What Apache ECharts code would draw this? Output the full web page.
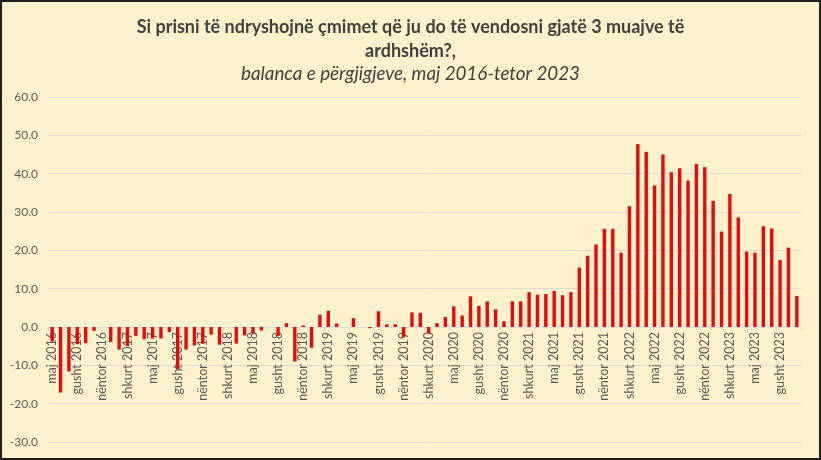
<!DOCTYPE html>
<html>
<head>
<meta charset="utf-8">
<script src="https://cdn.jsdelivr.net/npm/echarts@6/dist/echarts.min.js"></script>
<style>
html,body{margin:0;padding:0;background:#fff;}
#c{width:821px;height:460px;box-sizing:border-box;border:2px solid #1e1e1e;background:#fff2cc;}
</style>
</head>
<body>
<div id="c"></div>
<script>
const monthNames = ["janar","shkurt","mars","prill","maj","qershor","korrik","gusht","shtator","tetor","nëntor","dhjetor"];
const startYear = 2016, startMonth = 4, monthCount = 90;
const categories = [];
for (let k = 0; k < monthCount; k++) {
  const m = (startMonth + k) % 12;
  const y = startYear + Math.floor((startMonth + k) / 12);
  categories.push(monthNames[m] + " " + y);
}
const balance = [
  -3.8, -17.1, -11.6, -4.5, -4.2, -1.0, 0, -3.9, -5.9, -5.0,
  -2.3, -3.2, -3.0, -3.0, -1.3, -11.0, -5.9, -4.8, -4.4, -2.0,
  -4.6, 0, -4.3, -2.2, -1.7, -0.9, 0, -2.4, 1.0, -9.0,
  0.4, -5.4, 3.2, 4.2, 0.9, 0, 2.3, 0, -0.3, 4.1,
  0.7, 0.7, -2.7, 3.8, 3.7, -1.7, 1.0, 2.6, 5.4, 3.0,
  8.0, 5.5, 6.7, 4.6, 1.5, 6.7, 6.7, 9.1, 8.4, 8.6,
  9.4, 8.3, 9.1, 15.5, 18.6, 21.5, 25.6, 25.6, 19.4, 31.5,
  47.7, 45.7, 36.9, 45.0, 40.4, 41.4, 38.2, 42.5, 41.7, 32.9,
  24.9, 34.7, 28.6, 19.7, 19.4, 26.3, 25.7, 17.5, 20.7, 8.1
];
const titleLine1 = "Si prisni të ndryshojnë çmimet që ju do të vendosni gjatë 3 muajve të";
const titleLine2 = "ardhshëm?,";
const subtitle = "balanca e përgjigjeve, maj 2016-tetor 2023";
const yTicks = {min: -30, max: 60, interval: 10};

const FONT = "Lato, 'Open Sans', sans-serif";
const GRID_TOP = 95, GRID_BOTTOM = 16;
const chartEl = document.getElementById('c');
const chart = echarts.init(chartEl);
const plotH = chartEl.clientHeight - GRID_TOP - GRID_BOTTOM;
const zeroOffset = -plotH * (0 - yTicks.min) / (yTicks.max - yTicks.min);
chart.setOption({
  backgroundColor: '#fff2cc',
  animation: false,
  title: {
    text: titleLine1 + "\n" + titleLine2,
    subtext: subtitle,
    left: 'center',
    top: 8,
    itemGap: 1,
    textStyle: {fontFamily: FONT, fontSize: 18, fontWeight: 'bold', color: '#404040', lineHeight: 24},
    subtextStyle: {fontFamily: FONT, fontSize: 18.8, fontStyle: 'italic', color: '#404040', lineHeight: 20}
  },
  grid: {left: 46, right: 18, top: GRID_TOP, bottom: GRID_BOTTOM, containLabel: false, outerBoundsMode: 'none'},
  xAxis: {
    type: 'category',
    data: categories,
    boundaryGap: true,
    position: 'bottom',
    offset: zeroOffset,
    axisLine: {onZero: false, lineStyle: {color: '#d9d9d9', width: 1}},
    axisTick: {show: true, interval: 2, length: 4, lineStyle: {color: '#d9d9d9'}},
    axisLabel: {interval: 2, rotate: 90, fontFamily: FONT, fontSize: 12.5, color: '#595959', margin: 5},
    splitLine: {show: false}
  },
  yAxis: {
    type: 'value',
    min: yTicks.min, max: yTicks.max, interval: yTicks.interval,
    axisLine: {show: false},
    axisTick: {show: false},
    axisLabel: {formatter: v => v.toFixed(1), fontFamily: FONT, fontSize: 12, color: '#595959', margin: 10},
    splitLine: {lineStyle: {color: '#d9d9d9', width: 1}}
  },
  series: [{
    type: 'bar',
    data: balance,
    barWidth: 3.4,
    itemStyle: {color: '#e30b0b'}
  }]
});
</script>
</body>
</html>
